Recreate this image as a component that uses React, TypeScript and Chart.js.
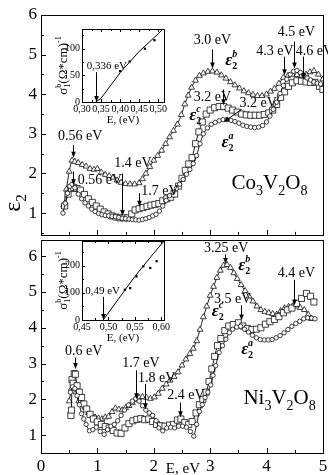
import React, { useEffect, useRef } from "react";
import { Chart, registerables } from "chart.js";

Chart.register(...registerables);

const SERIF = "'Liberation Serif', 'Times New Roman', serif";

type Pt = [number, number];

// ---------------- Data ----------------
const mainXTicks = [0, 1, 2, 3, 4, 5];
const mainXMinor = [0.5, 1.5, 2.5, 3.5, 4.5];
const mainYTicks = [1, 2, 3, 4, 5, 6];
const mainYMinor = [0.5, 1.5, 2.5, 3.5, 4.5, 5.5];

// Co3V2O8 : eps2 (b) triangles
const coEpsB: Pt[] = [
  [0.40, 1.2], [0.45, 1.6], [0.50, 2.05], [0.55, 2.33], [0.60, 2.3], [0.66, 2.27], [0.73, 2.22], [0.80, 2.18],
  [0.87, 2.12], [0.94, 2.1], [1.00, 2.12], [1.07, 2.03], [1.14, 1.97], [1.21, 1.94], [1.28, 1.9], [1.35, 1.83],
  [1.42, 1.77], [1.50, 1.74], [1.58, 1.73], [1.66, 1.73], [1.74, 1.76], [1.80, 1.86], [1.86, 2.0], [1.93, 2.17],
  [2.00, 2.33], [2.07, 2.45], [2.14, 2.58], [2.21, 2.75], [2.28, 2.92], [2.35, 3.08], [2.42, 3.24], [2.49, 3.48],
  [2.55, 3.75], [2.61, 3.97], [2.67, 4.17], [2.74, 4.35], [2.81, 4.47], [2.88, 4.53], [2.96, 4.57], [3.04, 4.58],
  [3.12, 4.55], [3.20, 4.48], [3.28, 4.4], [3.36, 4.31], [3.44, 4.23], [3.52, 4.15], [3.60, 4.08], [3.68, 4.03],
  [3.76, 3.99], [3.84, 3.96], [3.92, 3.96], [4.00, 4.0], [4.07, 4.07], [4.14, 4.14], [4.22, 4.27], [4.30, 4.42],
  [4.38, 4.47], [4.46, 4.5], [4.54, 4.49], [4.62, 4.47], [4.70, 4.5], [4.77, 4.56], [4.84, 4.59], [4.92, 4.5],
  [5.0, 4.38],
];
// Co3V2O8 : eps2 (c) squares
const coEpsC: Pt[] = [
  [0.42, 1.18], [0.48, 1.48], [0.53, 1.62], [0.58, 1.65], [0.64, 1.62], [0.70, 1.58], [0.77, 1.47], [0.84, 1.36],
  [0.91, 1.27], [0.98, 1.18], [1.05, 1.1], [1.12, 1.03], [1.19, 0.98], [1.26, 0.93], [1.33, 0.9], [1.40, 0.88],
  [1.47, 0.88], [1.54, 0.88], [1.61, 0.98], [1.67, 1.08], [1.74, 1.11], [1.81, 1.14], [1.88, 1.17], [1.95, 1.2],
  [2.02, 1.22], [2.09, 1.24], [2.16, 1.31], [2.23, 1.36], [2.30, 1.4], [2.37, 1.48], [2.44, 1.68], [2.50, 1.88],
  [2.56, 2.08], [2.62, 2.24], [2.68, 2.4], [2.74, 2.75], [2.80, 3.05], [2.86, 3.3], [2.93, 3.5], [3.00, 3.6],
  [3.08, 3.66], [3.16, 3.69], [3.24, 3.69], [3.32, 3.65], [3.40, 3.6], [3.48, 3.55], [3.56, 3.5], [3.64, 3.48],
  [3.72, 3.47], [3.80, 3.47], [3.88, 3.47], [3.96, 3.49], [4.04, 3.53], [4.11, 3.6], [4.18, 3.74], [4.25, 3.92],
  [4.32, 4.06], [4.39, 4.2], [4.46, 4.29], [4.54, 4.34], [4.62, 4.33], [4.70, 4.31], [4.78, 4.3], [4.86, 4.3],
  [4.94, 4.2], [5.0, 4.12],
];
// Co3V2O8 : eps2 (a) circles
const coEpsA: Pt[] = [
  [0.39, 1.0], [0.43, 1.25], [0.47, 1.5], [0.51, 1.68], [0.55, 1.73], [0.60, 1.64], [0.66, 1.48], [0.72, 1.36],
  [0.78, 1.26], [0.84, 1.18], [0.90, 1.1], [0.96, 1.04], [1.02, 0.99], [1.08, 0.96], [1.14, 0.94], [1.20, 0.93],
  [1.26, 0.92], [1.32, 0.91], [1.38, 0.89], [1.44, 0.87], [1.50, 0.86], [1.56, 0.85], [1.62, 0.84], [1.68, 0.83],
  [1.74, 0.82], [1.80, 0.84], [1.86, 0.86], [1.92, 0.89], [1.98, 0.93], [2.04, 0.97], [2.10, 1.05], [2.16, 1.18],
  [2.22, 1.32], [2.28, 1.44], [2.34, 1.53], [2.40, 1.62], [2.46, 1.73], [2.52, 1.85], [2.58, 1.98], [2.64, 2.1],
  [2.70, 2.25], [2.76, 2.45], [2.82, 2.75], [2.88, 3.0], [2.95, 3.15], [3.02, 3.24], [3.09, 3.29], [3.16, 3.33],
  [3.23, 3.36], [3.30, 3.36], [3.37, 3.34], [3.44, 3.31], [3.51, 3.27], [3.58, 3.22], [3.65, 3.19], [3.72, 3.17],
  [3.79, 3.16], [3.86, 3.17], [3.93, 3.21], [4.00, 3.3], [4.06, 3.45], [4.12, 3.62], [4.18, 3.8], [4.24, 4.02],
  [4.30, 4.22], [4.36, 4.38], [4.42, 4.5], [4.48, 4.58], [4.54, 4.6], [4.60, 4.55], [4.66, 4.48], [4.72, 4.41],
  [4.78, 4.36], [4.84, 4.31], [4.90, 4.28], [4.96, 4.26],
];

// Ni3V2O8 : eps2 (b) triangles
const niEpsB: Pt[] = [
  [0.50, 1.95], [0.54, 2.3], [0.58, 2.45], [0.62, 2.2], [0.67, 1.95], [0.72, 1.88], [0.78, 1.78], [0.84, 1.62],
  [0.90, 1.55], [0.96, 1.5], [1.02, 1.47], [1.08, 1.45], [1.14, 1.5], [1.20, 1.52], [1.26, 1.65], [1.32, 1.75],
  [1.38, 1.72], [1.44, 1.7], [1.50, 1.76], [1.56, 1.82], [1.62, 1.9], [1.68, 1.98], [1.74, 2.05], [1.80, 2.07],
  [1.87, 2.05], [1.94, 2.02], [2.01, 2.06], [2.08, 2.16], [2.15, 2.3], [2.22, 2.42], [2.29, 2.53], [2.36, 2.63],
  [2.43, 2.76], [2.50, 2.95], [2.57, 3.12], [2.64, 3.27], [2.70, 3.42], [2.76, 3.63], [2.82, 3.95], [2.88, 4.3],
  [2.94, 4.6], [3.00, 4.9], [3.06, 5.15], [3.12, 5.4], [3.18, 5.6], [3.24, 5.74], [3.30, 5.76], [3.36, 5.68],
  [3.42, 5.53], [3.48, 5.37], [3.55, 5.2], [3.62, 5.03], [3.69, 4.88], [3.76, 4.74], [3.83, 4.6], [3.90, 4.5],
  [3.97, 4.45], [4.04, 4.42], [4.11, 4.39], [4.18, 4.37], [4.25, 4.47], [4.32, 4.55], [4.39, 4.59], [4.46, 4.6],
  [4.53, 4.6], [4.60, 4.56], [4.67, 4.5], [4.74, 4.37], [4.80, 4.25],
];
// Ni3V2O8 : eps2 (c) squares
const niEpsC: Pt[] = [
  [0.53, 1.55], [0.54, 1.7], [0.55, 2.55], [0.57, 2.45], [0.59, 2.72], [0.61, 2.7], [0.64, 2.38], [0.68, 2.2],
  [0.72, 2.05], [0.76, 1.87], [0.81, 1.73], [0.87, 1.58], [0.93, 1.45], [1.00, 1.37], [1.07, 1.3], [1.14, 1.24],
  [1.21, 1.2], [1.28, 1.13], [1.35, 1.06], [1.42, 1.05], [1.49, 1.2], [1.56, 1.32], [1.63, 1.4], [1.70, 1.44],
  [1.77, 1.46], [1.84, 1.43], [1.91, 1.45], [1.98, 1.38], [2.05, 1.3], [2.12, 1.26], [2.20, 1.25], [2.28, 1.28],
  [2.35, 1.3], [2.42, 1.42], [2.48, 1.45], [2.55, 1.35], [2.62, 1.3], [2.68, 1.38], [2.75, 1.62], [2.81, 1.85],
  [2.87, 2.0], [2.93, 2.2], [2.98, 2.5], [3.03, 2.85], [3.08, 3.2], [3.13, 3.5], [3.19, 3.7], [3.26, 3.92],
  [3.33, 4.05], [3.41, 4.09], [3.50, 4.14], [3.58, 4.05], [3.66, 3.98], [3.74, 3.95], [3.82, 3.96], [3.90, 4.0],
  [3.98, 4.1], [4.06, 4.17], [4.14, 4.23], [4.22, 4.31], [4.30, 4.42], [4.37, 4.5], [4.45, 4.55], [4.53, 4.68],
  [4.62, 4.82], [4.71, 4.96], [4.78, 4.88], [4.84, 4.72],
];
// Ni3V2O8 : eps2 (a) circles
const niEpsA: Pt[] = [
  [0.52, 2.2], [0.56, 2.35], [0.60, 2.3], [0.64, 2.1], [0.68, 1.85], [0.72, 1.6], [0.76, 1.45], [0.80, 1.3],
  [0.86, 1.12], [0.92, 1.15], [0.98, 1.22], [1.05, 1.1], [1.12, 1.02], [1.18, 1.15], [1.24, 1.25], [1.30, 1.3],
  [1.36, 1.4], [1.42, 1.55], [1.48, 1.7], [1.55, 1.84], [1.62, 1.95], [1.68, 2.02], [1.74, 1.95], [1.80, 1.82],
  [1.86, 1.7], [1.92, 1.62], [1.98, 1.55], [2.04, 1.4], [2.09, 1.2], [2.16, 1.12], [2.23, 1.2], [2.30, 1.22],
  [2.37, 1.2], [2.44, 1.25], [2.51, 1.25], [2.58, 1.22], [2.65, 1.1], [2.71, 0.97], [2.76, 1.3], [2.81, 1.66],
  [2.86, 1.85], [2.91, 2.05], [2.96, 2.2], [3.01, 2.4], [3.05, 2.67], [3.10, 2.94], [3.16, 3.31], [3.22, 3.5],
  [3.28, 3.68], [3.34, 3.86], [3.40, 3.96], [3.47, 4.02], [3.54, 4.04], [3.61, 3.96], [3.68, 3.88], [3.75, 3.79],
  [3.82, 3.72], [3.89, 3.67], [3.96, 3.66], [4.03, 3.66], [4.10, 3.67], [4.17, 3.72], [4.24, 3.78], [4.31, 3.86],
  [4.38, 3.95], [4.45, 4.04], [4.52, 4.12], [4.59, 4.18], [4.66, 4.25], [4.73, 4.28], [4.80, 4.27], [4.86, 4.25],
];

// Insets: sigma_1^b vs E
const coInsetXTicks = [0.3, 0.35, 0.4, 0.45, 0.5];
const coInsetXMinor = [0.325, 0.375, 0.425, 0.475];
const coInsetYTicks = [0, 50, 100];
const coInsetYMinor = [25, 75, 125];
const coInsetLine: Pt[] = [[0.336, 0], [0.35, 7], [0.4, 55], [0.45, 95], [0.5, 128], [0.515, 139]];
const coInsetDots: Pt[] = [[0.4, 58], [0.425, 76], [0.465, 100], [0.49, 116]];

const niInsetXTicks = [0.45, 0.5, 0.55, 0.6];
const niInsetXMinor = [0.475, 0.525, 0.575];
const niInsetYTicks = [0, 100, 200];
const niInsetYMinor = [50, 150, 250];
const niInsetLine: Pt[] = [[0.49, 0], [0.52, 80], [0.55, 160], [0.58, 232], [0.605, 290]];
const niInsetDots: Pt[] = [[0.531, 111], [0.541, 117], [0.553, 160], [0.566, 197], [0.579, 191], [0.591, 216]];

// Annotations (data units: E, value)
const coLabels = [
  { t: "0.56 eV", x: 0.3, y: 2.84 },
  { t: "0.56 eV", x: 0.65, y: 1.73 },
  { t: "1.4 eV", x: 1.3, y: 2.16 },
  { t: "1.7 eV", x: 1.78, y: 1.45 },
  { t: "3.0 eV", x: 2.71, y: 5.26 },
  { t: "4.5 eV", x: 4.2, y: 5.46 },
  { t: "4.3 eV", x: 3.82, y: 5.0 },
  { t: "4.6 eV", x: 4.52, y: 5.0 },
  { t: "3.2 eV", x: 2.71, y: 3.82 },
  { t: "3.2 eV", x: 3.52, y: 3.67 },
];
const coArrows = [
  [0.56, 2.72, 0.56, 2.4], [0.56, 2.05, 0.56, 1.7], [1.43, 2.0, 1.43, 0.93], [1.74, 1.5, 1.74, 1.16],
  [3.04, 5.13, 3.04, 4.65], [4.48, 5.33, 4.48, 4.65], [4.31, 4.95, 4.31, 4.48], [4.65, 4.95, 4.65, 4.38],
  [3.23, 4.12, 3.23, 3.72], [3.56, 3.62, 3.24, 3.3],
];
const coEpsLabels = [
  { s: "b", x: 3.27, y: 4.73 },
  { s: "c", x: 2.63, y: 3.34 },
  { s: "a", x: 3.2, y: 2.66 },
];
const niLabels = [
  { t: "0.6 eV", x: 0.425, y: 3.23 },
  { t: "1.7 eV", x: 1.44, y: 2.9 },
  { t: "1.8 eV", x: 1.72, y: 2.48 },
  { t: "2.4 eV", x: 2.24, y: 2.02 },
  { t: "3.25 eV", x: 2.89, y: 6.11 },
  { t: "4.4 eV", x: 4.2, y: 5.42 },
  { t: "3.5 eV", x: 3.07, y: 4.68 },
];
const niArrows = [
  [0.6, 3.17, 0.6, 2.85], [1.68, 2.81, 1.68, 2.0], [1.85, 2.43, 1.85, 1.72], [2.47, 1.91, 2.47, 1.5],
  [3.26, 6.05, 3.26, 5.78], [4.48, 5.34, 4.48, 4.62], [3.54, 4.63, 3.54, 4.2],
];
const niEpsLabels = [
  { s: "b", x: 3.5, y: 5.62 },
  { s: "c", x: 3.03, y: 4.32 },
  { s: "a", x: 3.55, y: 3.28 },
];

// ---------------- Helpers ----------------
type Part = { t: string; size: number; style?: string; dy?: number; stack?: boolean };

function layoutRich(ctx: any, parts: Part[]) {
  let cx = 0;
  let prevStart = 0;
  const out: { p: Part; x: number }[] = [];
  for (const p of parts) {
    ctx.font = `${p.style || ""} ${p.size}px ${SERIF}`;
    const w = ctx.measureText(p.t).width;
    const sx = p.stack ? prevStart : cx;
    out.push({ p, x: sx });
    if (p.stack) cx = Math.max(cx, sx + w);
    else {
      prevStart = sx;
      cx = sx + w;
    }
  }
  return { items: out, width: cx };
}

function drawRich(ctx: any, x: number, y: number, parts: Part[], align = "left") {
  const { items, width } = layoutRich(ctx, parts);
  const x0 = align === "center" ? x - width / 2 : x;
  ctx.textAlign = "left";
  ctx.textBaseline = "alphabetic";
  for (const { p, x: px } of items) {
    ctx.font = `${p.style || ""} ${p.size}px ${SERIF}`;
    ctx.fillText(p.t, x0 + px, y + (p.dy || 0));
  }
}

function epsParts(sup: string): Part[] {
  return [
    { t: "ε", size: 17, style: "italic bold" },
    { t: "2", size: 10, style: "bold", dy: 4 },
    { t: sup, size: 10, style: "italic bold", dy: -8, stack: true },
  ];
}

function formulaParts(a: string): Part[] {
  return [
    { t: a, size: 21 },
    { t: "3", size: 14, dy: 6 },
    { t: "V", size: 21 },
    { t: "2", size: 14, dy: 6 },
    { t: "O", size: 21 },
    { t: "8", size: 14, dy: 6 },
  ];
}

function sigmaParts(): Part[] {
  return [
    { t: "σ", size: 13 },
    { t: "1", size: 8, dy: 3 },
    { t: "b", size: 8, dy: -6, stack: true },
    { t: "(Ω*cm)", size: 13 },
    { t: "-1", size: 8, dy: -6 },
  ];
}

function arrow(ctx: any, x1: number, y1: number, x2: number, y2: number) {
  if (Math.abs(x1 - x2) < 0.01) {
    x1 = Math.round(x1) + 0.5;
    x2 = x1;
  }
  const ang = Math.atan2(y2 - y1, x2 - x1);
  const L = 6;
  const W = 2.3;
  const c = Math.cos(ang);
  const s = Math.sin(ang);
  ctx.beginPath();
  ctx.moveTo(x1, y1);
  ctx.lineTo(x2 - L * 0.7 * c, y2 - L * 0.7 * s);
  ctx.stroke();
  ctx.beginPath();
  ctx.moveTo(x2, y2);
  ctx.lineTo(x2 - L * c + W * s, y2 - L * s - W * c);
  ctx.lineTo(x2 - L * c - W * s, y2 - L * s + W * c);
  ctx.closePath();
  ctx.fill();
}

function innerTicks(ctx: any, chart: any, spec: any) {
  const a = chart.chartArea;
  const xs = chart.scales.x;
  const ys = chart.scales.y;
  ctx.beginPath();
  const vx = (vals: number[], len: number, top: boolean) => {
    for (const v of vals) {
      const px = Math.round(xs.getPixelForValue(v)) + 0.5;
      if (px < a.left - 1 || px > a.right + 1) continue;
      ctx.moveTo(px, a.bottom);
      ctx.lineTo(px, a.bottom - len);
      if (top) {
        ctx.moveTo(px, a.top);
        ctx.lineTo(px, a.top + len);
      }
    }
  };
  const vy = (vals: number[], len: number) => {
    for (const v of vals) {
      const py = Math.round(ys.getPixelForValue(v)) + 0.5;
      if (py < a.top - 1 || py > a.bottom + 1) continue;
      ctx.moveTo(a.left, py);
      ctx.lineTo(a.left + len, py);
    }
  };
  vx(spec.xMajor, spec.major, spec.top);
  vx(spec.xMinor, spec.minor, spec.top);
  vy(spec.yMajor, spec.major);
  vy(spec.yMinor, spec.minor);
  ctx.stroke();
}

function frame(ctx: any, a: any) {
  ctx.strokeRect(Math.round(a.left) + 0.5, Math.round(a.top) + 0.5, Math.round(a.right) - Math.round(a.left), Math.round(a.bottom) - Math.round(a.top));
}

function series(data: Pt[], style: string, radius: number) {
  return {
    data: data.map(([x, y]) => ({ x, y })),
    borderColor: "#000",
    borderWidth: 0.9,
    pointStyle: style,
    pointRadius: radius,
    pointBorderColor: "#111",
    pointBackgroundColor: "#fff",
    pointBorderWidth: 0.8,
    tension: 0.2,
    fill: false,
  };
}

const tickFont = { family: SERIF, size: 17 };

function mainConfig(opts: any) {
  return {
    type: "line",
    data: {
      datasets: [
        series(opts.a, "circle", 2.2),
        series(opts.c, "rect", 4.3),
        series(opts.b, "triangle", 3.4),
      ],
    },
    options: {
      responsive: false,
      animation: false,
      devicePixelRatio: 1,
      layout: { padding: opts.padding },
      plugins: { legend: { display: false }, tooltip: { enabled: false } },
      scales: {
        x: {
          type: "linear",
          min: 0,
          max: 5,
          display: opts.showX,
          afterBuildTicks: (s: any) => {
            s.ticks = mainXTicks.map((value) => ({ value }));
          },
          afterFit: (s: any) => {
            s.height = opts.showX ? 22 : 0;
            s.paddingLeft = 0;
            s.paddingRight = 0;
          },
          grid: { display: false, drawTicks: false },
          border: { display: false },
          ticks: { font: tickFont, color: "#000", padding: 3, maxRotation: 0, autoSkip: false },
        },
        y: {
          type: "linear",
          min: opts.yMin,
          max: opts.yMax,
          afterBuildTicks: (s: any) => {
            s.ticks = mainYTicks.map((value) => ({ value }));
          },
          afterFit: (s: any) => {
            s.width = 41;
            s.paddingTop = 0;
            s.paddingBottom = 0;
          },
          grid: { display: false, drawTicks: false },
          border: { display: false },
          ticks: { font: tickFont, color: "#000", padding: 4, autoSkip: false },
        },
      },
    },
    plugins: [
      {
        id: "decor",
        afterDraw(chart: any) {
          const ctx = chart.ctx;
          const xs = chart.scales.x;
          const ys = chart.scales.y;
          const X = (v: number) => xs.getPixelForValue(v);
          const Y = (v: number) => ys.getPixelForValue(v);
          ctx.save();
          ctx.strokeStyle = "#000";
          ctx.fillStyle = "#000";
          ctx.lineWidth = 1;
          frame(ctx, chart.chartArea);
          innerTicks(ctx, chart, { xMajor: mainXTicks, xMinor: mainXMinor, yMajor: mainYTicks, yMinor: mainYMinor, major: 5, minor: 3, top: false });
          ctx.font = `14px ${SERIF}`;
          ctx.textAlign = "left";
          ctx.textBaseline = "alphabetic";
          for (const l of opts.labels) ctx.fillText(l.t, X(l.x), Y(l.y));
          for (const [x1, y1, x2, y2] of opts.arrows) arrow(ctx, X(x1), Y(y1), X(x2), Y(y2));
          for (const e of opts.eps) drawRich(ctx, X(e.x), Y(e.y), epsParts(e.s));
          drawRich(ctx, X(opts.formula.x), Y(opts.formula.y), formulaParts(opts.formula.a));
          if (opts.extra) opts.extra(ctx, chart);
          ctx.restore();
        },
      },
    ],
  };
}

function insetConfig(opts: any) {
  const fmt = (v: any) => Number(v).toFixed(2).replace(".", ",");
  return {
    type: "line",
    data: {
      datasets: [
        {
          data: opts.line.map(([x, y]: Pt) => ({ x, y })),
          borderColor: "#000",
          borderWidth: 1,
          pointRadius: 0,
          tension: 0,
          fill: false,
        },
        {
          data: opts.dots.map(([x, y]: Pt) => ({ x, y })),
          showLine: false,
          pointStyle: "rect",
          pointRadius: 1.6,
          pointBackgroundColor: "#000",
          pointBorderColor: "#000",
          pointBorderWidth: 0,
        },
      ],
    },
    options: {
      responsive: false,
      animation: false,
      devicePixelRatio: 1,
      layout: { padding: { left: 0, right: 6, top: 7, bottom: 0 } },
      plugins: { legend: { display: false }, tooltip: { enabled: false } },
      scales: {
        x: {
          type: "linear",
          min: opts.xMin,
          max: opts.xMax,
          afterBuildTicks: (s: any) => {
            s.ticks = opts.xTicks.map((value: number) => ({ value }));
          },
          afterFit: (s: any) => {
            s.height = opts.xHeight;
            s.paddingLeft = 0;
            s.paddingRight = 0;
          },
          grid: { display: false, drawTicks: false },
          border: { display: false },
          ticks: { font: { family: SERIF, size: 10 }, color: "#000", padding: 1, maxRotation: 0, autoSkip: false, callback: fmt },
        },
        y: {
          type: "linear",
          min: 0,
          max: opts.yMax,
          afterBuildTicks: (s: any) => {
            s.ticks = opts.yTicks.map((value: number) => ({ value }));
          },
          afterFit: (s: any) => {
            s.width = 42;
            s.paddingTop = 0;
            s.paddingBottom = 0;
          },
          grid: { display: false, drawTicks: false },
          border: { display: false },
          ticks: { font: { family: SERIF, size: 10 }, color: "#000", padding: 2, autoSkip: false },
        },
      },
    },
    plugins: [
      {
        id: "insetDecor",
        afterDraw(chart: any) {
          const ctx = chart.ctx;
          const a = chart.chartArea;
          const xs = chart.scales.x;
          const ys = chart.scales.y;
          ctx.save();
          ctx.strokeStyle = "#000";
          ctx.fillStyle = "#000";
          ctx.lineWidth = 1;
          frame(ctx, a);
          innerTicks(ctx, chart, { xMajor: opts.xTicks, xMinor: opts.xMinor, yMajor: opts.yTicks, yMinor: opts.yMinor, major: 3, minor: 2, top: true });
          drawRich(ctx, (a.left + a.right) / 2, a.bottom + 21, [{ t: "E, (eV)", size: 11 }], "center");
          ctx.save();
          ctx.translate(a.left - 19, (a.top + a.bottom) / 2);
          ctx.rotate(-Math.PI / 2);
          drawRich(ctx, 0, 4, sigmaParts(), "center");
          ctx.restore();
          const ox = xs.getPixelForValue(opts.onset);
          ctx.font = `11px ${SERIF}`;
          ctx.textAlign = "left";
          ctx.fillText(opts.onsetText, ox + opts.textDx, ys.getPixelForValue(opts.textY));
          arrow(ctx, ox, ys.getPixelForValue(opts.arrowFrom), ox, ys.getPixelForValue(0));
          ctx.restore();
        },
      },
    ],
  };
}

function ChartCanvas(props: { left: number; top: number; width: number; height: number; make: () => any }) {
  const ref = useRef<HTMLCanvasElement | null>(null);
  useEffect(() => {
    const chart = new Chart(ref.current as HTMLCanvasElement, props.make());
    return () => chart.destroy();
  }, []);
  return (
    <canvas
      ref={ref}
      width={props.width}
      height={props.height}
      style={{ position: "absolute", left: props.left, top: props.top, width: props.width, height: props.height }}
    />
  );
}

export default function App() {
  const topMake = () =>
    mainConfig({
      a: coEpsA,
      b: coEpsB,
      c: coEpsC,
      yMin: 0.45,
      yMax: 6,
      showX: false,
      padding: { left: 0, right: 1, top: 15, bottom: 4 },
      labels: coLabels,
      arrows: coArrows,
      eps: coEpsLabels,
      formula: { a: "Co", x: 3.38, y: 1.6 },
      extra: (ctx: any) => {
        ctx.save();
        ctx.translate(20, 203);
        ctx.rotate(-Math.PI / 2);
        drawRich(ctx, 0, 0, [{ t: "ε", size: 24 }, { t: "2", size: 15, dy: 6 }], "center");
        ctx.restore();
      },
    });
  const bottomMake = () =>
    mainConfig({
      a: niEpsA,
      b: niEpsB,
      c: niEpsC,
      yMin: 0.5,
      yMax: 6.45,
      showX: true,
      padding: { left: 0, right: 1, top: 1, bottom: 0 },
      labels: niLabels,
      arrows: niArrows,
      eps: niEpsLabels,
      formula: { a: "Ni", x: 3.59, y: 1.88 },
      extra: (ctx: any, chart: any) => {
        const a = chart.chartArea;
        drawRich(ctx, (a.left + a.right) / 2 + 1, a.bottom + 20, [{ t: "E, eV", size: 15 }], "center");
      },
    });
  const coInsetMake = () =>
    insetConfig({
      line: coInsetLine,
      dots: coInsetDots,
      xMin: 0.3,
      xMax: 0.515,
      yMax: 137,
      xTicks: coInsetXTicks,
      xMinor: coInsetXMinor,
      yTicks: coInsetYTicks,
      yMinor: coInsetYMinor,
      xHeight: 24,
      onset: 0.336,
      onsetText: "0,336 eV",
      textDx: -9,
      textY: 62,
      arrowFrom: 56,
    });
  const niInsetMake = () =>
    insetConfig({
      line: niInsetLine,
      dots: niInsetDots,
      xMin: 0.45,
      xMax: 0.605,
      yMax: 290,
      xTicks: niInsetXTicks,
      xMinor: niInsetXMinor,
      yTicks: niInsetYTicks,
      yMinor: niInsetYMinor,
      xHeight: 24,
      onset: 0.49,
      onsetText: "0,49 eV",
      textDx: -18,
      textY: 95,
      arrowFrom: 85,
    });
  return (
    <div style={{ position: "absolute", left: 0, top: 0, width: 328, height: 475, background: "#fff" }}>
      <ChartCanvas left={0} top={0} width={328} height={240} make={topMake} />
      <ChartCanvas left={0} top={235} width={328} height={240} make={bottomMake} />
      <ChartCanvas left={40} top={22} width={130} height={104} make={coInsetMake} />
      <ChartCanvas left={40} top={234} width={130} height={110} make={niInsetMake} />
    </div>
  );
}
